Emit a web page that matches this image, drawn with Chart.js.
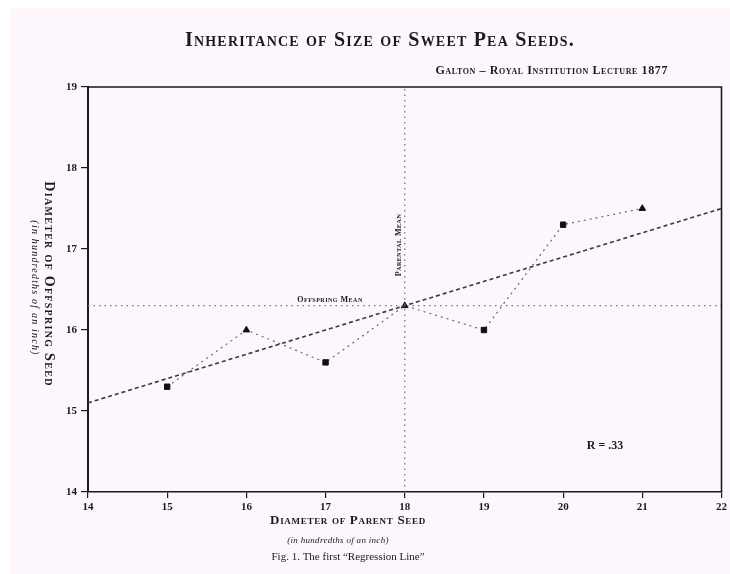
<!DOCTYPE html>
<html><head><meta charset="utf-8">
<script src="https://cdn.jsdelivr.net/npm/chart.js@4.4.1/dist/chart.umd.min.js"></script>
<style>html,body{margin:0;padding:0;background:#ffffff}#wrap{width:730px;height:574px;position:relative}</style>
</head><body><div id="wrap"><canvas id="c"></canvas></div>
<script>
// Data
const parentDiam = [15, 16, 17, 18, 19, 20, 21];
const offspringDiam = [15.3, 16.0, 15.6, 16.3, 16.0, 17.3, 17.5];
const markerStyles = ['rect', 'triangle', 'rect', 'triangle', 'rect', 'rect', 'triangle'];
const regressionX = [14, 22];
const regressionY = [15.1, 17.5];
const offspringMean = 16.3;
const parentMean = 18;
const xTickLabels = ['14', '15', '16', '17', '18', '19', '20', '21', '22'];
const yTickLabels = ['14', '15', '16', '17', '18', '19'];
const xRange = [14, 22];
const yRange = [14, 19];

const SERIF = '"Liberation Serif", "DejaVu Serif", serif';
const INK = '#1a1a1a';

const pts = (xs, ys) => xs.map((x, i) => ({x: x, y: ys[i]}));

const bgPlugin = {
  id: 'bg',
  beforeDraw(chart) {
    const c = chart.ctx;
    c.save();
    c.fillStyle = '#ffffff';
    c.fillRect(0, 0, chart.width, chart.height);
    c.fillStyle = '#fdf6fd';
    c.fillRect(10, 8, chart.width - 10, chart.height - 8);
    c.restore();
  }
};

const framePlugin = {
  id: 'frame',
  afterDatasetsDraw(chart) {
    const a = chart.chartArea, c = chart.ctx;
    c.save();
    c.strokeStyle = INK;
    c.lineWidth = 1.6;
    c.beginPath();
    c.moveTo(a.left, a.top); c.lineTo(a.right, a.top); c.lineTo(a.right, a.bottom);
    c.stroke();
    c.restore();
  }
};

function txt(c, s, x, y, font, align, rot, spacing) {
  c.save();
  c.font = font;
  c.fillStyle = INK;
  c.textAlign = align || 'center';
  c.textBaseline = 'middle';
  if (spacing) c.letterSpacing = spacing + 'px';
  c.translate(x, y);
  if (rot) c.rotate(rot);
  c.fillText(s, 0, 0);
  c.restore();
}

const textPlugin = {
  id: 'texts',
  afterDraw(chart) {
    const c = chart.ctx;
    const xs = chart.scales.x, ys = chart.scales.y;
    // titles
    txt(c, 'Inheritance of Size of Sweet Pea Seeds.', 380, 41, 'small-caps bold 20px ' + SERIF, 'center', 0, 1.2);
    txt(c, 'Galton \u2013 Royal Institution Lecture 1877', 668, 71, 'small-caps bold 12px ' + SERIF, 'right', 0, 0.6);
    // y axis title (reads top to bottom)
    txt(c, 'Diameter of Offspring Seed', 49, 284, 'small-caps bold 14px ' + SERIF, 'center', Math.PI / 2, 1.3);
    txt(c, '(in hundredths of an inch)', 35, 288, 'italic 10px ' + SERIF, 'center', Math.PI / 2, 1.2);
    // x axis title
    txt(c, 'Diameter of Parent Seed', 348, 521, 'small-caps bold 13px ' + SERIF, 'center', 0, 0.7);
    txt(c, '(in hundredths of an inch)', 338, 541, 'italic 9px ' + SERIF, 'center', 0, 0.3);
    txt(c, 'Fig. 1. The first \u201CRegression Line\u201D', 348, 557, '11px ' + SERIF, 'center');
    // annotations
    txt(c, 'Offspring Mean', 330, ys.getPixelForValue(offspringMean) - 6, 'small-caps bold 8px ' + SERIF, 'center', 0, 0.5);
    txt(c, 'Parental Mean', xs.getPixelForValue(parentMean) - 6, 245, 'small-caps bold 8px ' + SERIF, 'center', -Math.PI / 2, 0.5);
    txt(c, 'R = .33', 605, 446, 'bold 12px ' + SERIF, 'center');
  }
};

new Chart(document.getElementById('c'), {
  type: 'scatter',
  data: {
    datasets: [
      {
        label: 'Offspring mean',
        data: pts(xRange, [offspringMean, offspringMean]),
        showLine: true, borderColor: '#777777', borderWidth: 1.3, borderDash: [1.5, 4],
        pointRadius: 0, fill: false
      },
      {
        label: 'Parental mean',
        data: pts([parentMean, parentMean], yRange),
        showLine: true, borderColor: '#777777', borderWidth: 1.3, borderDash: [1.5, 4],
        pointRadius: 0, fill: false
      },
      {
        label: 'Regression line',
        data: pts(regressionX, regressionY),
        showLine: true, borderColor: '#3a3a3a', borderWidth: 1.6, borderDash: [4, 3],
        pointRadius: 0, fill: false
      },
      {
        label: 'Observed means',
        data: pts(parentDiam, offspringDiam),
        showLine: true, borderColor: '#6a6a6a', borderWidth: 1.2, borderDash: [2, 4],
        pointStyle: markerStyles, pointRadius: 3.8,
        pointBackgroundColor: '#111', pointBorderColor: '#111', pointBorderWidth: 1,
        fill: false
      }
    ]
  },
  plugins: [bgPlugin, framePlugin, textPlugin],
  options: {
    responsive: true,
    maintainAspectRatio: false,
    animation: false,
    layout: {padding: {left: 10, top: 87, right: 8, bottom: 0}},
    plugins: {legend: {display: false}, tooltip: {enabled: false}},
    scales: {
      x: {
        type: 'linear', min: xRange[0], max: xRange[1],
        afterFit(s) { s.height = 82; },
        ticks: {
          stepSize: 1, padding: 3, color: INK,
          font: {family: SERIF, size: 11, weight: 'bold'},
          callback: (v) => xTickLabels[v - xRange[0]]
        },
        grid: {display: true, drawOnChartArea: false, drawTicks: true, tickLength: 6, color: INK, lineWidth: 1.2},
        border: {display: true, color: INK, width: 1.6}
      },
      y: {
        type: 'linear', min: yRange[0], max: yRange[1],
        afterFit(s) { s.width = 78; },
        ticks: {
          stepSize: 1, padding: 4, color: INK,
          font: {family: SERIF, size: 11, weight: 'bold'},
          callback: (v) => yTickLabels[v - yRange[0]]
        },
        grid: {display: true, drawOnChartArea: false, drawTicks: true, tickLength: 7, color: INK, lineWidth: 1.2},
        border: {display: true, color: INK, width: 2}
      }
    }
  }
});
</script>
</body></html>
